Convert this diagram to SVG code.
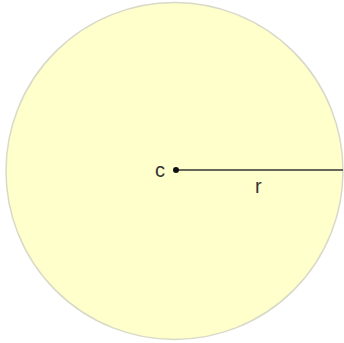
<svg xmlns="http://www.w3.org/2000/svg" width="344" height="343" viewBox="0 0 344 343">
<style>
.lbl{font-family:"Liberation Sans",Arial,sans-serif;font-size:20px;fill:#333}
</style>
<rect width="344" height="343" fill="#ffffff"/>
<g id="circle">
<circle cx="174.5" cy="171" r="168.5" fill="#ffffcc" stroke="#d9d9c8" stroke-width="1.5"/>
</g>
<g id="connectors">
<line x1="176" y1="170" x2="343" y2="170" stroke="#333" stroke-width="1.5"/>
</g>
<g id="center">
<circle cx="176" cy="170" r="3" fill="#111"/>
<text class="lbl" x="155" y="177">c</text>
</g>
<g id="radius-label">
<text class="lbl" x="255" y="193">r</text>
</g>
</svg>
